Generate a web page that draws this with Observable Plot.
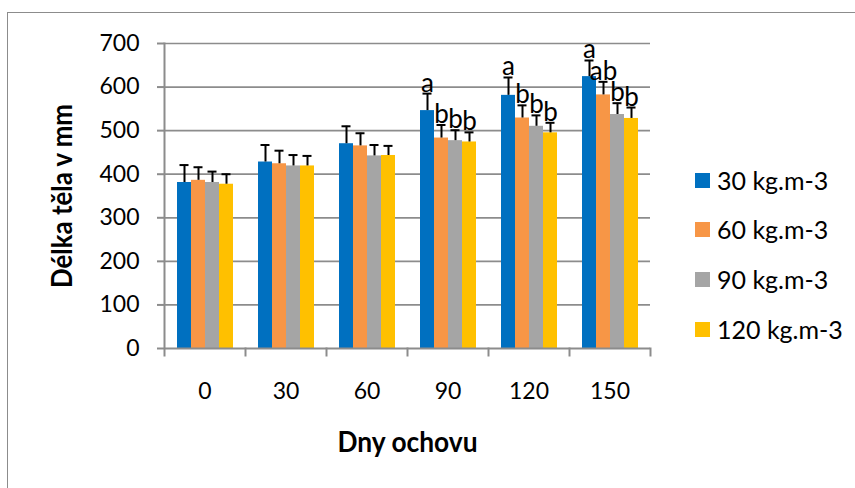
<!DOCTYPE html>
<html>
<head>
<meta charset="utf-8">
<script src="https://cdn.jsdelivr.net/npm/d3@7"></script>
<script src="https://cdn.jsdelivr.net/npm/@observablehq/plot@0.6"></script>
<style>
  html, body { margin: 0; padding: 0; background: #fff; }
  #wrap { position: relative; width: 855px; height: 488px; overflow: hidden; font-family: Lato, "Open Sans", sans-serif; }
  #border { position: absolute; left: 7px; top: 12px; width: 900px; height: 600px; border-left: 1.5px solid #8c8c8c; border-top: 1.5px solid #8c8c8c; box-sizing: border-box; }
  #chart { position: absolute; left: 0; top: 0; }
  #legend { position: absolute; left: 695px; top: 0; }
  .item { position: absolute; left: 0; display: flex; align-items: center; white-space: nowrap; font-size: 25px; color: #000; }
  .sw { width: 15px; height: 15px; margin-right: 7px; flex: none; }
</style>
</head>
<body>
<div id="wrap">
  <div id="border"></div>
  <div id="chart"></div>
  <div id="legend"></div>
</div>
<script>
const days = ["0", "30", "60", "90", "120", "150"];
const series = ["30 kg.m-3", "60 kg.m-3", "90 kg.m-3", "120 kg.m-3"];
const colors = ["#0070C0", "#F79646", "#A5A5A5", "#FFC000"];
const yTicks = [0, 100, 200, 300, 400, 500, 600, 700];
const yTitle = "Délka těla v mm";
const xTitle = "Dny ochovu";

const mean30 = [381, 428, 470, 546, 581, 624];
const mean60 = [386, 424, 465, 483, 529, 582];
const mean90 = [381, 419, 442, 477, 510, 537];
const mean120 = [377, 419, 443, 474, 495, 528];

const sd30 = [40, 39, 40, 39, 41, 37];
const sd60 = [30, 30, 29, 30, 29, 30];
const sd90 = [25, 25, 25, 24, 25, 26];
const sd120 = [23, 23, 22, 22, 23, 25];

const letters30 = ["", "", "", "a", "a", "a"];
const letters60 = ["", "", "", "b", "b", "ab"];
const letters90 = ["", "", "", "b", "b", "b"];
const letters120 = ["", "", "", "b", "b", "b"];

const means = [mean30, mean60, mean90, mean120];
const sds = [sd30, sd60, sd90, sd120];
const letters = [letters30, letters60, letters90, letters120];

const rows = [];
days.forEach((day, i) => {
  series.forEach((s, j) => {
    rows.push({day, series: s, mean: means[j][i], sd: sds[j][i], letter: letters[j][i]});
  });
});

const gray = "#8c8c8c";
const W = 680, H = 488, mT = 43, mB = 140, mL = 163, mR = 30;
const plotH = H - mT - mB;

const chart = Plot.plot({
  width: W, height: H,
  marginTop: mT, marginBottom: mB, marginLeft: mL, marginRight: mR,
  style: {fontFamily: "Lato, 'Open Sans', sans-serif", fontSize: "23px", color: "#000", background: "transparent"},
  fx: {domain: days, padding: 0},
  x: {domain: series, paddingInner: 0, paddingOuter: 0.8, axis: null},
  y: {domain: [0, 700], axis: null},
  color: {domain: series, range: colors},
  marks: [
    Plot.gridY(yTicks.filter(d => d > 0), {stroke: gray, strokeOpacity: 1, strokeWidth: 1.7}),
    Plot.barY(rows, {fx: "day", x: "series", y: "mean", fill: "series"}),
    Plot.ruleX(rows, {fx: "day", x: "series", y1: "mean", y2: d => d.mean + d.sd, stroke: "#000", strokeWidth: 2}),
    Plot.tickY(rows, {fx: "day", x: "series", y: d => d.mean + d.sd, stroke: "#000", strokeWidth: 2, insetLeft: 2.5, insetRight: 2.5}),
    Plot.text(rows.filter(d => d.letter), {fx: "day", x: "series", y: d => d.mean + d.sd, text: "letter", lineAnchor: "bottom", dy: -2, fontSize: 26, fill: "#000"}),
    Plot.ruleY([0], {stroke: gray, strokeWidth: 2}),
    Plot.frame({anchor: "left", facetAnchor: "left", stroke: gray, strokeWidth: 2, insetBottom: -7}),
    Plot.frame({anchor: "right", stroke: gray, strokeWidth: 2, insetTop: plotH, insetBottom: -7}),
    Plot.axisY(yTicks, {anchor: "left", tickSize: 7, tickPadding: 18, stroke: gray, strokeWidth: 2, fontSize: 23,
      label: yTitle, labelArrow: "none", labelAnchor: "center", labelOffset: 100}),
    Plot.axisFx({anchor: "bottom", tickSize: 0, tickPadding: 34, fontSize: 23,
      label: xTitle, labelArrow: "none", labelAnchor: "center", labelOffset: 103})
  ]
});

document.getElementById("chart").appendChild(chart);

// style axis titles (bold, condensed like the original)
const yLab = d3.select(chart).selectAll('[aria-label="y-axis label"] text')
  .text(yTitle)
  .attr("font-weight", "bold").attr("font-size", 29)
  .attr("textLength", 184).attr("lengthAdjust", "spacingAndGlyphs");
d3.select(chart).selectAll('[aria-label="fx-axis label"] text')
  .text(xTitle)
  .attr("font-weight", "bold").attr("font-size", 28)
  .attr("textLength", 140).attr("lengthAdjust", "spacingAndGlyphs");

// place the rotated y title so its baseline sits near x = 72 as in the original
const yNode = yLab.node();
if (yNode) {
  const r = yNode.getBoundingClientRect();
  const c = chart.getBoundingClientRect();
  const targetRight = 78; // baseline ≈ 72 plus descent
  const shift = targetRight - (r.right - c.left);
  const g = yNode.parentNode;
  g.setAttribute("transform", `translate(${shift},0) ` + (g.getAttribute("transform") || ""));
}

// legend
const legend = d3.select("#legend");
const legendY = [180, 229, 279, 329];
series.forEach((s, j) => {
  const item = legend.append("div").attr("class", "item").style("top", (legendY[j] - 15) + "px").style("height", "30px");
  item.append("div").attr("class", "sw").style("background", colors[j]);
  item.append("span").text(s);
});
</script>
</body>
</html>
